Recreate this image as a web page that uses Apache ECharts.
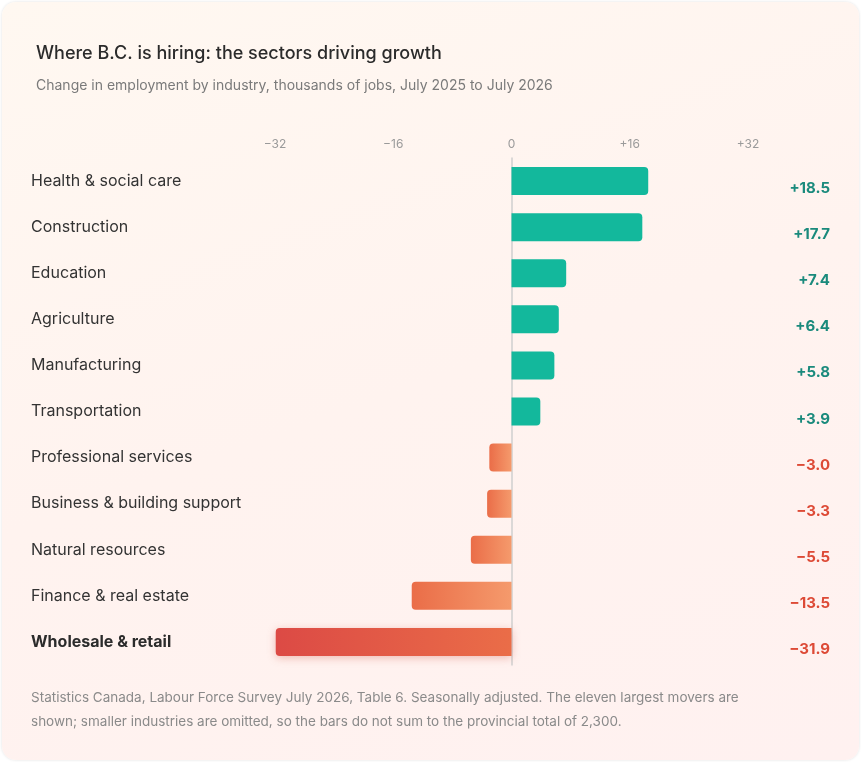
<!DOCTYPE html>
<html lang="en">
<head>
<meta charset="UTF-8">
<script src="https://cdn.jsdelivr.net/npm/echarts@6/dist/echarts.min.js"></script>
<style>
  html, body { margin:0; padding:0; background:#fff; }
  #card { position:absolute; left:2px; top:2px; width:857px; height:758px; border-radius:14px;
          background:linear-gradient(160deg,#fff8f1 0%,#fff3ef 50%,#fff1f0 100%);
          box-shadow:0 0 3px rgba(0,0,0,0.12); }
  #chart { width:861px; height:762px; position:absolute; left:0; top:0; }
</style>
</head>
<body>
<div id="card"></div>
<div id="chart"></div>
<script>
    var industries = ['Health & social care','Construction','Education','Agriculture','Manufacturing',
        'Transportation','Professional services','Business & building support','Natural resources',
        'Finance & real estate','Wholesale & retail'];
    var change = [18.5, 17.7, 7.4, 6.4, 5.8, 3.9, -3.0, -3.3, -5.5, -13.5, -31.9];
    var tickValues = [-32, -16, 0, 16, 32];

    var chart = echarts.init(document.getElementById('chart'));
    var font = 'Inter, "Noto Sans", sans-serif';

    function fmt(v) { return (v > 0 ? '+' : '\u2212') + Math.abs(v).toFixed(1); }

    var barData = change.map(function (v, i) {
        var style;
        if (v > 0) {
            style = { color: '#13b89c', borderRadius: [0, 4, 4, 0] };
        } else {
            style = {
                color: new echarts.graphic.LinearGradient(0, 0, 1, 0, [
                    { offset: 0, color: i === 10 ? '#dc4a45' : '#ea6d48' },
                    { offset: 1, color: i === 10 ? '#ea6d48' : '#f59a6c' }
                ]),
                borderRadius: [4, 0, 0, 4]
            };
            if (i === 10) { style.shadowColor = 'rgba(200,60,40,0.3)'; style.shadowBlur = 8; style.shadowOffsetY = 2; }
        }
        return { value: v, itemStyle: style };
    });

    var option = {
        animation: false,
        textStyle: { fontFamily: font },
        title: {
            text: 'Where B.C. is hiring: the sectors driving growth',
            subtext: 'Change in employment by industry, thousands of jobs, July 2025 to July 2026',
            left: 31, top: 40, itemGap: 16,
            textStyle: { fontSize: 18, fontWeight: 500, color: '#2b2b2b', fontFamily: font },
            subtextStyle: { fontSize: 14, color: '#7a7a7a', fontFamily: font }
        },
        grid: { left: 275, right: 113, top: 158, bottom: 97, containLabel: false },
        xAxis: {
            type: 'value', position: 'top', min: -32, max: 32, interval: 16,
            axisLine: { show: false }, axisTick: { show: false }, splitLine: { show: false },
            axisLabel: {
                color: '#9a9a9a', fontSize: 12, margin: 8,
                formatter: function (v) { return tickValues.indexOf(v) < 0 ? '' : (v > 0 ? '+' + v : v < 0 ? '\u2212' + (-v) : '0'); }
            }
        },
        yAxis: {
            type: 'category', inverse: true, data: industries,
            axisLine: { show: true, onZero: true, lineStyle: { color: '#cfcfcf', width: 1.5 } },
            axisTick: { show: false },
            axisLabel: {
                position: 'left', align: 'left', margin: 244, fontSize: 16, color: '#333',
                formatter: function (v, i) { return i === 10 ? '{b|' + v + '}' : v; },
                rich: { b: { fontWeight: 'bold', fontSize: 16, color: '#2b2b2b' } }
            }
        },
        series: [{
            type: 'bar', data: barData, barWidth: 28,
            label: {
                show: true, position: 'right', fontSize: 15, fontWeight: 'bold',
                formatter: function (p) { return fmt(p.value); },
                color: 'inherit'
            },
            labelLayout: function (p) {
                return { x: 830, align: 'right' };
            }
        }],
        graphic: [{
            type: 'text', left: 31, top: 686,
            style: {
                text: 'Statistics Canada, Labour Force Survey July 2026, Table 6. Seasonally adjusted. The eleven largest movers are\nshown; smaller industries are omitted, so the bars do not sum to the provincial total of 2,300.',
                fontSize: 13.5, lineHeight: 24, fill: '#8a8a8a', fontFamily: font
            }
        }]
    };
    option.series[0].data.forEach(function (d) {
        d.label = { color: d.value > 0 ? '#1a8a7c' : '#dd4a36' };
    });
    chart.setOption(option);
</script>
</body>
</html>
